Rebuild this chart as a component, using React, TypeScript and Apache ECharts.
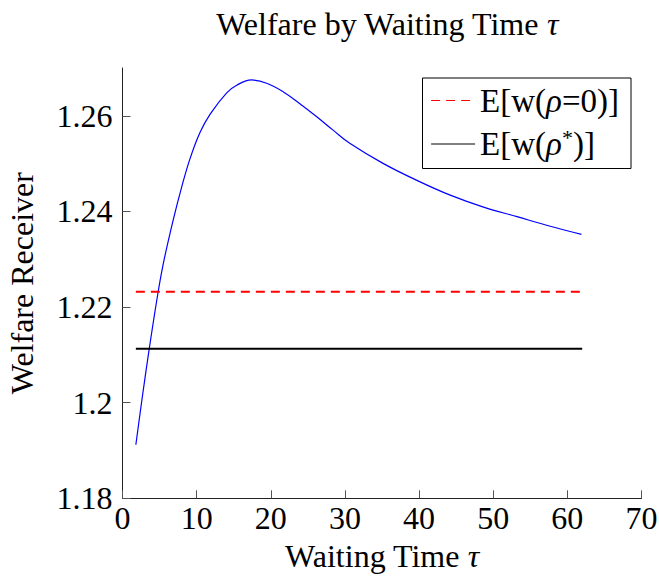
import React, { useEffect, useRef } from "react";
import * as echarts from "echarts";

const tau = [1.8, 2.7, 3.6, 4.8, 5.6, 6.85, 7.98, 9.1, 10.45, 11.8, 14.05, 15.4, 17.4, 19.45, 21.7, 23.7, 26.2, 28.4, 30.7, 35.2, 39.7, 44.2, 48.7, 53.2, 57.7, 61.9];
const welfare = [1.1912, 1.2015, 1.2112, 1.2231, 1.2298, 1.2383, 1.2451, 1.251, 1.2565, 1.2603, 1.2648, 1.2664, 1.2675, 1.2668, 1.265, 1.2628, 1.2598, 1.257, 1.2542, 1.25, 1.2465, 1.2434, 1.2409, 1.2389, 1.2369, 1.2352];
const refSpan = [1.8, 62];
const welfareRho0 = 1.2232;
const welfareRhoStar = 1.2113;
const yTicks = [1.18, 1.2, 1.22, 1.24, 1.26];

const FONT = "'Liberation Serif', 'Times New Roman', serif";
const FS = 32;

export default function App() {
  const ref = useRef<HTMLDivElement>(null);
  useEffect(() => {
    document.body.style.margin = "0";
    const chart = echarts.init(ref.current!, null, { renderer: "svg" });
    const italic = { fontStyle: "italic", fontFamily: FONT, fontSize: FS, color: "#000" };
    chart.setOption({
      animation: false,
      backgroundColor: "#fff",
      textStyle: { fontFamily: FONT, color: "#000" },
      title: {
        text: "Welfare by Waiting Time {i|τ}",
        left: 382,
        textAlign: "center",
        top: 3,
        textStyle: {
          fontFamily: FONT,
          fontSize: FS,
          fontWeight: "normal",
          color: "#000",
          rich: { i: italic },
        },
      },
      legend: {
        right: 28,
        top: 78,
        orient: "vertical",
        borderColor: "#000",
        borderWidth: 1,
        borderRadius: 0,
        padding: [6, 12, 8, 8],
        itemGap: 9,
        itemWidth: 44,
        itemHeight: 14,
        itemStyle: { opacity: 0, borderWidth: 0 },
        lineStyle: { width: 1.2 },
        data: ["rho0", "rhostar"],
        formatter: (name: string) =>
          name === "rho0" ? "E[w({i|ρ}=0)]" : "E[w({i|ρ}{sup|*})]",
        textStyle: {
          fontFamily: FONT,
          fontSize: 33,
          color: "#000",
          rich: {
            i: { fontStyle: "italic", fontFamily: FONT, fontSize: 33 },
            sup: { fontFamily: FONT, fontSize: 22, verticalAlign: "top", padding: [0, 0, 14, 0] },
          },
        },
      },
      grid: { left: 122.5, right: 17.5, top: 68, bottom: 82.7, containLabel: false, outerBoundsMode: "none" },
      xAxis: {
        type: "value",
        min: 0,
        max: 70,
        interval: 10,
        name: "Waiting Time {i|τ}",
        nameLocation: "middle",
        nameGap: 42,
        nameTextStyle: { fontFamily: FONT, fontSize: FS, color: "#000", rich: { i: italic } },
        axisLine: { lineStyle: { color: "#222", width: 1 } },
        axisTick: { inside: true, length: 8, lineStyle: { color: "#555" } },
        axisLabel: { fontFamily: FONT, fontSize: FS, color: "#000", margin: 4 },
        splitLine: { show: false },
      },
      yAxis: {
        type: "value",
        min: 1.18,
        max: 1.27,
        name: "Welfare Receiver",
        nameLocation: "middle",
        nameGap: 85,
        nameTextStyle: { fontFamily: FONT, fontSize: FS, color: "#000" },
        axisLine: { show: true, lineStyle: { color: "#222", width: 1 } },
        axisTick: { inside: true, length: 8, lineStyle: { color: "#555" }, customValues: yTicks },
        axisLabel: {
          fontFamily: FONT,
          fontSize: FS,
          color: "#000",
          margin: 10,
          customValues: yTicks,
          formatter: (v: number) => String(Math.round(v * 100) / 100),
        },
        splitLine: { show: false },
      },
      series: [
        {
          name: "welfare",
          type: "line",
          data: tau.map((t, i) => [t, welfare[i]]),
          showSymbol: false,
          symbol: "none",
          smooth: 0.4,
          lineStyle: { color: "#0000ff", width: 1.2 },
        },
        {
          name: "rho0",
          type: "line",
          data: refSpan.map((t) => [t, welfareRho0]),
          symbol: "none",
          color: "#ff0000",
          lineStyle: { color: "#ff0000", width: 2, type: [9, 6] },
        },
        {
          name: "rhostar",
          type: "line",
          data: refSpan.map((t) => [t, welfareRhoStar]),
          symbol: "none",
          color: "#000",
          lineStyle: { color: "#000", width: 2 },
        },
      ],
    });
    return () => chart.dispose();
  }, []);
  return <div ref={ref} style={{ width: 659, height: 581 }} />;
}
